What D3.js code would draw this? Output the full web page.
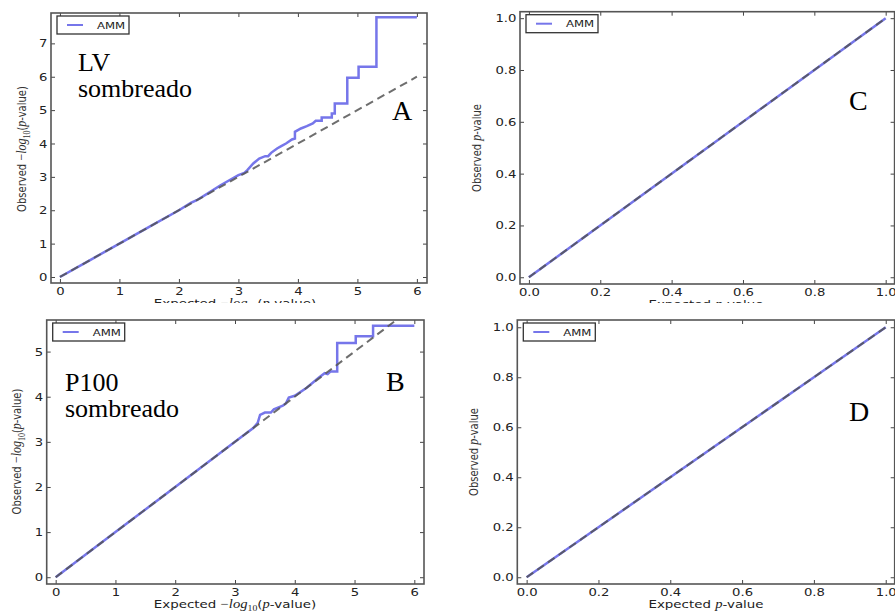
<!DOCTYPE html>
<html>
<head>
<meta charset="utf-8">
<script src="https://cdn.jsdelivr.net/npm/d3@7"></script>
<style>
  body { margin: 0; background: #fff; }
  svg { display: block; }
</style>
</head>
<body>
<div id="chart"></div>
<script>
// QQ data (expected, observed)
const lvLogExpected = [0, 0.5, 1, 1.5, 2, 2.2, 2.3, 2.5, 2.7, 3.0, 3.1, 3.15, 3.25, 3.35, 3.45, 3.5, 3.55, 3.65, 3.72, 3.8, 3.9, 3.95, 3.95, 4.05, 4.15, 4.25, 4.3, 4.4, 4.4, 4.5, 4.57, 4.57, 4.62, 4.62, 4.83, 4.83, 5.02, 5.02, 5.32, 5.32, 6.0];
const lvLogObserved = [0, 0.5, 1, 1.5, 2, 2.22, 2.3, 2.52, 2.75, 3.05, 3.12, 3.2, 3.4, 3.55, 3.62, 3.62, 3.72, 3.85, 3.92, 4.0, 4.12, 4.15, 4.35, 4.45, 4.52, 4.6, 4.68, 4.68, 4.78, 4.78, 4.78, 4.9, 4.9, 5.2, 5.2, 5.97, 5.97, 6.3, 6.3, 7.78, 7.78];

const p100LogExpected = [0, 1, 2, 3, 3.2, 3.3, 3.38, 3.42, 3.5, 3.6, 3.65, 3.8, 3.85, 3.9, 4.0, 4.2, 4.4, 4.5, 4.55, 4.6, 4.71, 4.71, 5.02, 5.02, 5.31, 5.31, 6.0];
const p100LogObserved = [0, 1, 2, 3, 3.2, 3.3, 3.42, 3.6, 3.65, 3.65, 3.72, 3.8, 3.85, 3.98, 4.02, 4.2, 4.42, 4.52, 4.5, 4.56, 4.56, 5.19, 5.19, 5.34, 5.34, 5.57, 5.57];

const lvPExpected = [0, 0.25, 0.5, 0.75, 1];
const lvPObserved = [0, 0.25, 0.5, 0.75, 1];
const p100PExpected = [0, 0.25, 0.5, 0.75, 1];
const p100PObserved = [0, 0.25, 0.5, 0.75, 1];

const logXTicks = [0, 1, 2, 3, 4, 5, 6];
const lvLogYTicks = [0, 1, 2, 3, 4, 5, 6, 7];
const p100LogYTicks = [0, 1, 2, 3, 4, 5];
const pTicks = [0, 0.2, 0.4, 0.6, 0.8, 1.0];

const seriesName = "AMM";

const W = 895, H = 614;
const blue = "#7676ea";
const sans = "'DejaVu Sans', sans-serif";
const serif = "'Liberation Serif', 'Times New Roman', serif";

const svg = d3.select("#chart").append("svg")
    .attr("width", W).attr("height", H);
const defs = svg.append("defs");

const panels = [
  { id: "A", ex: lvLogExpected, ob: lvLogObserved, xt: logXTicks, yt: lvLogYTicks, log: true,
    frame: { l: 51, t: 13, r: 427, b: 283 }, xDom: [-0.15, 6.17], yDom: [-0.18, 7.91], diagMax: 6,
    note: ["LV", "sombreado"], notePos: [78, 70.7], letterPos: [392, 120],
    yLab: [22, 149], xLab: [235, 307], clip: 303 },
  { id: "C", ex: lvPExpected, ob: lvPObserved, xt: pTicks, yt: pTicks, log: false,
    frame: { l: 520, t: 11.7, r: 894.6, b: 284 }, xDom: [-0.025, 1.025], yDom: [-0.026, 1.025], diagMax: 1,
    note: null, letterPos: [849, 110],
    yLab: [476.7, 148], xLab: [706, 308], clip: 303 },
  { id: "B", ex: p100LogExpected, ob: p100LogObserved, xt: logXTicks, yt: p100LogYTicks, log: true,
    frame: { l: 46.7, t: 320, r: 424, b: 584 }, xDom: [-0.15, 6.162], yDom: [-0.15, 5.70], diagMax: 6,
    note: ["P100", "sombreado"], notePos: [65, 390.7], letterPos: [386, 391],
    yLab: [16.7, 451.5], xLab: [235, 608], clip: null },
  { id: "D", ex: p100PExpected, ob: p100PObserved, xt: pTicks, yt: pTicks, log: false,
    frame: { l: 517.3, t: 320, r: 894.7, b: 584 }, xDom: [-0.026, 1.025], yDom: [-0.027, 1.029], diagMax: 1,
    note: null, letterPos: [849, 421],
    yLab: [473.3, 452], xLab: [706, 608], clip: null }
];

// math-ish label: -log10(p-value) or p-value
function mathLabel(text, prefix, log) {
  text.append("tspan").text(prefix + " ");
  if (log) {
    text.append("tspan").attr("font-family", serif).attr("font-size", "12px").text("\u2212");
    text.append("tspan").attr("font-family", serif).attr("font-style", "italic").attr("font-size", "12px").text("log");
    text.append("tspan").attr("font-family", serif).attr("font-size", "8px").attr("dy", 3).text("10");
    text.append("tspan").attr("dy", -3).text("(");
  }
  text.append("tspan").attr("font-family", serif).attr("font-style", "italic").attr("font-size", "12px").text("p");
  text.append("tspan").text(log ? "-value)" : "-value");
}

panels.forEach(p => {
  const f = p.frame;
  let root = svg.append("g");
  if (p.clip) {
    defs.append("clipPath").attr("id", "cut" + p.id)
      .append("rect").attr("x", 0).attr("y", 0).attr("width", W).attr("height", p.clip);
    root.attr("clip-path", `url(#cut${p.id})`);
  }

  const x = d3.scaleLinear().domain(p.xDom).range([f.l, f.r]);
  const y = d3.scaleLinear().domain(p.yDom).range([f.b, f.t]);
  const fmt = p.log ? d3.format("d") : d3.format(".1f");

  defs.append("clipPath").attr("id", "plot" + p.id)
    .append("rect").attr("x", f.l).attr("y", f.t).attr("width", f.r - f.l).attr("height", f.b - f.t);

  // lines
  const pts = p.ex.map((e, i) => [e, p.ob[i]]);
  const line = d3.line().x(d => x(d[0])).y(d => y(d[1]));
  const plot = root.append("g").attr("clip-path", `url(#plot${p.id})`);
  plot.append("path").datum(pts)
    .attr("d", line).attr("fill", "none")
    .attr("stroke", blue).attr("stroke-width", 2.5).attr("stroke-linejoin", "miter");
  plot.append("path").datum([[0, 0], [p.diagMax, p.diagMax]])
    .attr("d", line).attr("fill", "none")
    .attr("stroke", "#555").attr("stroke-width", 2).attr("stroke-dasharray", "8,5")
    .attr("opacity", 0.85);

  // axes, ticks pointing inward on all four sides
  const ax = root.append("g").attr("color", "#444");
  ax.append("g").attr("transform", `translate(0,${f.b})`)
    .call(d3.axisBottom(x).tickValues(p.xt).tickFormat(fmt).tickSizeInner(-4).tickSizeOuter(0).tickPadding(4));
  ax.append("g").attr("transform", `translate(${f.l},0)`)
    .call(d3.axisLeft(y).tickValues(p.yt).tickFormat(fmt).tickSizeInner(-4).tickSizeOuter(0).tickPadding(3));
  ax.append("g").attr("transform", `translate(0,${f.t})`)
    .call(d3.axisTop(x).tickValues(p.xt).tickFormat("").tickSizeInner(-4).tickSizeOuter(0));
  ax.append("g").attr("transform", `translate(${f.r},0)`)
    .call(d3.axisRight(y).tickValues(p.yt).tickFormat("").tickSizeInner(-4).tickSizeOuter(0));
  ax.selectAll(".domain").remove();
  ax.selectAll(".tick line").attr("stroke-width", 1);
  ax.selectAll(".tick text")
    .attr("font-family", sans).attr("font-size", "11px").attr("fill", "#222")
    .attr("transform", "scale(1.2,1)");

  root.append("rect")
    .attr("x", f.l).attr("y", f.t).attr("width", f.r - f.l).attr("height", f.b - f.t)
    .attr("fill", "none").attr("stroke", "#555").attr("stroke-width", 1.6);

  // legend
  const lg = root.append("g").attr("transform", `translate(${f.l + 6},${f.t + 3})`);
  lg.append("rect").attr("width", 72).attr("height", 18)
    .attr("fill", "#fff").attr("stroke", "#333").attr("stroke-width", 1.3);
  lg.append("line").attr("x1", 10).attr("x2", 26).attr("y1", 9).attr("y2", 9)
    .attr("stroke", blue).attr("stroke-width", 2);
  lg.append("text").attr("transform", "translate(40,12.5) scale(1.3,1)")
    .attr("font-family", sans).attr("font-size", "9px").attr("fill", "#222")
    .text(seriesName);

  // axis titles
  const yl = root.append("text")
    .attr("transform", `translate(${p.yLab[0]},${p.yLab[1]}) rotate(-90) scale(1,1.2)`)
    .attr("text-anchor", "middle").attr("dy", "0.35em")
    .attr("font-family", sans).attr("font-size", "10px").attr("fill", "#333");
  mathLabel(yl, "Observed", p.log);

  const xl = root.append("text")
    .attr("transform", `translate(${p.xLab[0]},${p.xLab[1]}) scale(1.22,1)`)
    .attr("text-anchor", "middle")
    .attr("font-family", sans).attr("font-size", "11px").attr("fill", "#222");
  mathLabel(xl, "Expected", p.log);

  // panel annotations
  if (p.note) {
    p.note.forEach((t, i) => {
      root.append("text").attr("x", p.notePos[0]).attr("y", p.notePos[1] + i * 26)
        .attr("font-family", serif).attr("font-size", "26px").attr("fill", "#000").text(t);
    });
  }
  root.append("text").attr("x", p.letterPos[0]).attr("y", p.letterPos[1])
    .attr("font-family", serif).attr("font-size", "28px").attr("fill", "#000").text(p.id);
});
</script>
</body>
</html>
